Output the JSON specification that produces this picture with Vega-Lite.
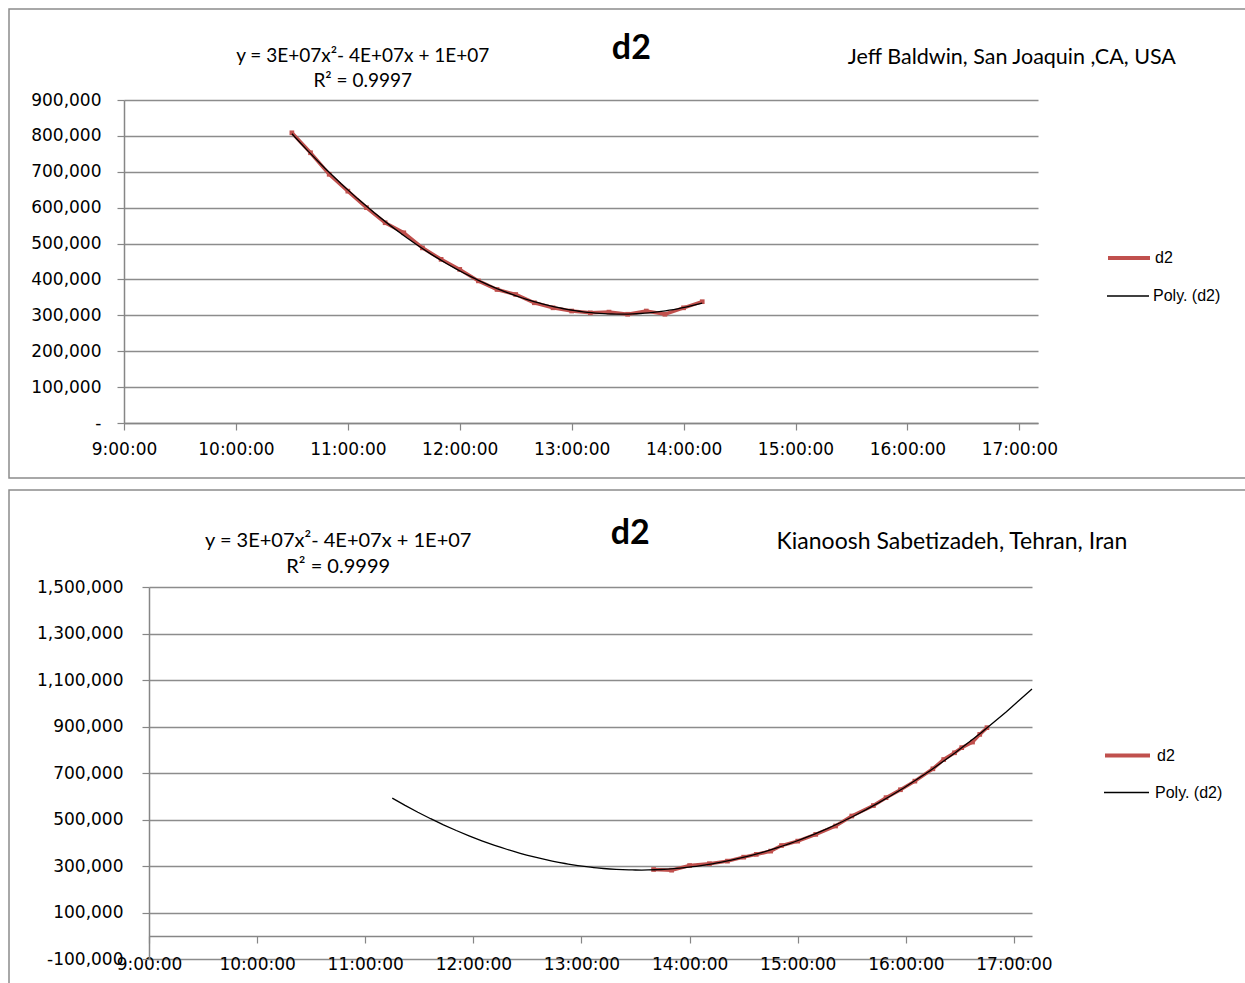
{
  "$schema": "https://vega.github.io/schema/vega-lite/v6.json",
  "padding": {"left": 8, "top": 8, "right": 0, "bottom": 0},
  "background": "white",
  "spacing": 10,
  "resolve": {
    "scale": {"color": "independent", "stroke": "independent"},
    "legend": {"color": "independent", "stroke": "independent"}
  },
  "datasets": {
    "baldwin": [
      {"min": 630, "d2": 808600}, {"min": 640, "d2": 753000}, {"min": 650, "d2": 693000},
      {"min": 660, "d2": 646000}, {"min": 670, "d2": 600000}, {"min": 680, "d2": 558000},
      {"min": 690, "d2": 530000}, {"min": 700, "d2": 488000}, {"min": 710, "d2": 456000},
      {"min": 720, "d2": 428000}, {"min": 730, "d2": 396000}, {"min": 740, "d2": 372000},
      {"min": 750, "d2": 358000}, {"min": 760, "d2": 335000}, {"min": 770, "d2": 321000},
      {"min": 780, "d2": 312000}, {"min": 790, "d2": 307000}, {"min": 800, "d2": 309000},
      {"min": 810, "d2": 303000}, {"min": 820, "d2": 312000}, {"min": 830, "d2": 303000},
      {"min": 840, "d2": 321000}, {"min": 850, "d2": 338000}
    ],
    "sabetizadeh": [
      {"min": 820, "d2": 285000}, {"min": 830, "d2": 282000}, {"min": 840, "d2": 302000},
      {"min": 851, "d2": 310000}, {"min": 861, "d2": 321000}, {"min": 870, "d2": 338000},
      {"min": 877, "d2": 350000}, {"min": 885, "d2": 364000}, {"min": 891, "d2": 388000},
      {"min": 900, "d2": 407000}, {"min": 910, "d2": 436000}, {"min": 921, "d2": 472000},
      {"min": 930, "d2": 515000}, {"min": 942, "d2": 560000}, {"min": 949, "d2": 594000},
      {"min": 957, "d2": 628000}, {"min": 965, "d2": 665000}, {"min": 975, "d2": 718000},
      {"min": 981, "d2": 758000}, {"min": 987, "d2": 787000}, {"min": 991, "d2": 809000},
      {"min": 997, "d2": 833000}, {"min": 1001, "d2": 866000}, {"min": 1005, "d2": 895000}
    ]
  },
  "config": {
    "view": {"stroke": "#8c8c8c", "strokeWidth": 1.5},
    "axis": {
      "domainColor": "#868686", "domainWidth": 1.5, "tickColor": "#868686", "tickWidth": 1.2,
      "gridColor": "#8c8c8c", "gridWidth": 1.5, "gridOpacity": 1, "labelFlush": false,
      "labelFont": "DejaVu Sans", "labelFontSize": 17, "labelColor": "#000000", "title": null
    },
    "legend": {"labelFont": "Liberation Sans", "labelFontSize": 16, "labelColor": "#000000", "padding": 0, "title": null}
  },
  "vconcat": [
    {
      "width": 1240, "height": 469,
      "data": {"name": "baldwin"},
      "layer": [
        {
          "mark": {"type": "line", "strokeWidth": 3.5, "point": {"filled": true, "shape": "square", "size": 22}},
          "encoding": {
            "x": {"field": "min", "type": "quantitative",
              "scale": {"domain": [540, 1030], "range": [115, 1029], "nice": false, "zero": false},
              "axis": {"values": [540, 600, 660, 720, 780, 840, 900, 960, 1020], "grid": false, "offset": -55,
                "tickSize": 7, "labelPadding": 11, "labelExpr": "floor(datum.value/60) + ':00:00'"}},
            "y": {"field": "d2", "type": "quantitative",
              "scale": {"domain": [0, 900000], "range": [414, 91], "nice": false, "zero": false},
              "axis": {"values": [0, 100000, 200000, 300000, 400000, 500000, 600000, 700000, 800000, 900000],
                "grid": true, "offset": -115, "tickSize": 7, "labelPadding": 16,
                "labelExpr": "datum.value == 0 ? '-\u00a0\u00a0\u00a0' : format(datum.value, ',')"}},
            "color": {"datum": "d2", "scale": {"domain": ["d2"], "range": ["#C0504D"]},
              "legend": {"orient": "none", "legendX": 1097, "legendY": 226, "symbolType": "stroke",
                "symbolSize": 1764, "symbolStrokeWidth": 4, "labelOffset": 3}}
          }
        },
        {
          "transform": [{"regression": "d2", "on": "min", "method": "poly", "order": 2}],
          "mark": {"type": "line", "strokeWidth": 1.3},
          "encoding": {
            "x": {"field": "min", "type": "quantitative"},
            "y": {"field": "d2", "type": "quantitative"},
            "stroke": {"datum": "Poly. (d2)", "scale": {"domain": ["Poly. (d2)"], "range": ["#000000"]},
              "legend": {"orient": "none", "legendX": 1097, "legendY": 265, "symbolType": "stroke",
                "symbolSize": 1764, "symbolStrokeWidth": 1.3, "labelOffset": 3}}
          }
        },
        {
          "data": {"values": [{}]},
          "mark": {"type": "text", "font": "Lato", "fontSize": 19, "align": "center", "baseline": "middle"},
          "encoding": {"x": {"datum": 668, "type": "quantitative"}, "y": {"datum": 1022000, "type": "quantitative"},
            "text": {"value": "y = 3E+07x²- 4E+07x + 1E+07"}}
        },
        {
          "data": {"values": [{}]},
          "mark": {"type": "text", "font": "Lato", "fontSize": 19, "align": "center", "baseline": "middle"},
          "encoding": {"x": {"datum": 668, "type": "quantitative"}, "y": {"datum": 953000, "type": "quantitative"},
            "text": {"value": "R² = 0.9997"}}
        },
        {
          "data": {"values": [{}]},
          "mark": {"type": "text", "font": "Lato", "fontSize": 34, "fontWeight": "bold", "align": "center", "baseline": "middle"},
          "encoding": {"x": {"datum": 812, "type": "quantitative"}, "y": {"datum": 1042000, "type": "quantitative"},
            "text": {"value": "d2"}}
        },
        {
          "data": {"values": [{}]},
          "mark": {"type": "text", "font": "Lato", "fontSize": 21.5, "align": "center", "baseline": "middle"},
          "encoding": {"x": {"datum": 1016, "type": "quantitative"}, "y": {"datum": 1017000, "type": "quantitative"},
            "text": {"value": "Jeff Baldwin, San Joaquin ,CA, USA"}}
        }
      ]
    },
    {
      "width": 1240, "height": 500,
      "data": {"name": "sabetizadeh"},
      "layer": [
        {
          "mark": {"type": "line", "strokeWidth": 3.5, "point": {"filled": true, "shape": "square", "size": 22}},
          "encoding": {
            "x": {"field": "min", "type": "quantitative",
              "scale": {"domain": [540, 1030], "range": [140, 1023], "nice": false, "zero": false},
              "axis": {"values": [540, 600, 660, 720, 780, 840, 900, 960, 1020], "grid": false, "offset": -54,
                "tickSize": 7, "labelPadding": 13, "labelExpr": "floor(datum.value/60) + ':00:00'"}},
            "y": {"field": "d2", "type": "quantitative",
              "scale": {"domain": [-100000, 1500000], "range": [469, 97], "nice": false, "zero": false},
              "axis": {"values": [-100000, 100000, 300000, 500000, 700000, 900000, 1100000, 1300000, 1500000],
                "grid": true, "offset": -140, "tickSize": 7, "labelPadding": 19,
                "labelExpr": "replace(format(datum.value, ','), '−', '-')"}},
            "color": {"datum": "d2", "scale": {"domain": ["d2"], "range": ["#C0504D"]},
              "legend": {"orient": "none", "legendX": 1094, "legendY": 241, "symbolType": "stroke",
                "symbolSize": 2025, "symbolStrokeWidth": 4, "labelOffset": 5}}
          }
        },
        {
          "transform": [{"regression": "d2", "on": "min", "method": "poly", "order": 2, "extent": [675, 1030]}],
          "mark": {"type": "line", "strokeWidth": 1.3},
          "encoding": {
            "x": {"field": "min", "type": "quantitative"},
            "y": {"field": "d2", "type": "quantitative"},
            "stroke": {"datum": "Poly. (d2)", "scale": {"domain": ["Poly. (d2)"], "range": ["#000000"]},
              "legend": {"orient": "none", "legendX": 1094, "legendY": 279, "symbolType": "stroke",
                "symbolSize": 2025, "symbolStrokeWidth": 1.3, "labelOffset": 5}}
          }
        },
        {
          "data": {"values": [{}]},
          "mark": {"type": "text", "font": "Lato", "fontSize": 20, "align": "center", "baseline": "middle"},
          "encoding": {"x": {"datum": 645, "type": "quantitative"}, "y": {"datum": 1700000, "type": "quantitative"},
            "text": {"value": "y = 3E+07x²- 4E+07x + 1E+07"}}
        },
        {
          "data": {"values": [{}]},
          "mark": {"type": "text", "font": "Lato", "fontSize": 20, "align": "center", "baseline": "middle"},
          "encoding": {"x": {"datum": 645, "type": "quantitative"}, "y": {"datum": 1584000, "type": "quantitative"},
            "text": {"value": "R² = 0.9999"}}
        },
        {
          "data": {"values": [{}]},
          "mark": {"type": "text", "font": "Lato", "fontSize": 34, "fontWeight": "bold", "align": "center", "baseline": "middle"},
          "encoding": {"x": {"datum": 807, "type": "quantitative"}, "y": {"datum": 1730000, "type": "quantitative"},
            "text": {"value": "d2"}}
        },
        {
          "data": {"values": [{}]},
          "mark": {"type": "text", "font": "Lato", "fontSize": 23, "align": "center", "baseline": "middle"},
          "encoding": {"x": {"datum": 985.6, "type": "quantitative"}, "y": {"datum": 1695000, "type": "quantitative"},
            "text": {"value": "Kianoosh Sabetizadeh, Tehran, Iran"}}
        }
      ]
    }
  ]
}
